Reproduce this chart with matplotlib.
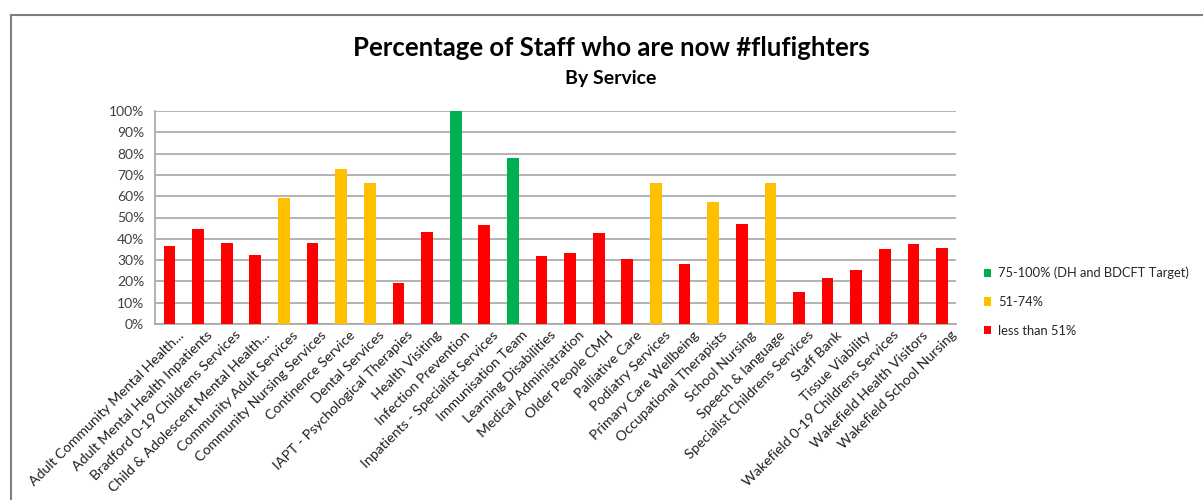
import matplotlib
matplotlib.use("Agg")
import matplotlib.pyplot as plt
from matplotlib.lines import Line2D
from matplotlib.patches import Patch
from matplotlib.ticker import PercentFormatter, MultipleLocator
from matplotlib.transforms import ScaledTranslation

plt.rcParams["font.family"] = ["Lato", "DejaVu Sans"]

services = [
    "Adult Community Mental Health...",
    "Adult Mental Health Inpatients",
    "Bradford 0-19 Childrens Services",
    "Child & Adolescent Mental Health...",
    "Community Adult Services",
    "Community Nursing Services",
    "Continence Service",
    "Dental Services",
    "IAPT - Psychological Therapies",
    "Health Visiting",
    "Infection Prevention",
    "Inpatients - Specialist Services",
    "Immunisation Team",
    "Learning Disabilities",
    "Medical Administration",
    "Older People CMH",
    "Palliative Care",
    "Podiatry Services",
    "Primary Care Wellbeing",
    "Occupational Therapists",
    "School Nursing",
    "Speech & language",
    "Specialist Childrens Services",
    "Staff Bank",
    "Tissue Viability",
    "Wakefield 0-19 Childrens Services",
    "Wakefield Health Visitors",
    "Wakefield School Nursing",
]
uptake = [36.4, 44.5, 38.0, 32.5, 59.1, 38.0, 72.9, 66.2, 19.3, 43.3,
          100.0, 46.3, 77.8, 31.8, 33.2, 42.8, 30.7, 66.2, 28.4, 57.2,
          47.0, 66.2, 15.0, 21.5, 25.2, 35.0, 37.5, 35.6]

band_labels = ["75-100% (DH and BDCFT Target)", "51-74%", "less than 51%"]
band_colors = ["#00B050", "#FFC000", "#FF0000"]


def band_color(v):
    if v >= 75:
        return band_colors[0]
    if v >= 51:
        return band_colors[1]
    return band_colors[2]


fig = plt.figure(figsize=(12.03, 5.0), dpi=100)
ax = fig.add_axes([0.129, 0.352, 0.666, 0.426])

x = range(len(services))
ax.bar(x, uptake, width=0.41, color=[band_color(v) for v in uptake], zorder=3)

ax.set_ylim(0, 100)
ax.set_xlim(-0.5, len(services) - 0.5)
ax.yaxis.set_major_locator(MultipleLocator(10))
ax.yaxis.set_major_formatter(PercentFormatter(decimals=0))
ax.grid(axis="y", color="#a6a6a6", linewidth=1.2, zorder=0)
ax.tick_params(length=0, labelsize=10, colors="#404040")
ax.tick_params(axis="y", pad=8)
for side in ["top", "right"]:
    ax.spines[side].set_visible(False)
for side in ["left", "bottom"]:
    ax.spines[side].set_color("#a6a6a6")
    ax.spines[side].set_linewidth(1.2)

ax.set_xticks(list(x))
ax.set_xticklabels(services, rotation=45, ha="right", va="top",
                   rotation_mode="anchor", fontsize=10.2, color="#1f1f1f")
offset = ScaledTranslation(8 / 100, 0, fig.dpi_scale_trans)
for lab in ax.get_xticklabels():
    lab.set_transform(lab.get_transform() + offset)

fig.text(0.508, 0.905, "Percentage of Staff who are now #flufighters",
         ha="center", va="center", fontsize=18.5, fontweight="bold")
fig.text(0.508, 0.843, "By Service", ha="center", va="center",
         fontsize=14, fontweight="bold")

handles = [Patch(facecolor=c, edgecolor="none") for c in band_colors]
fig.legend(handles, band_labels, loc="upper left",
           bbox_to_anchor=(0.808, 0.49), frameon=False, fontsize=9.3,
           handlelength=0.6, handleheight=0.6, handletextpad=0.5,
           labelspacing=1.3, labelcolor="#262626")

# outer chart border
fig.add_artist(Line2D([11 / 1203, 1.0], [1 - 14.5 / 500] * 2,
                      transform=fig.transFigure, color="#808080", linewidth=1.5))
fig.add_artist(Line2D([11 / 1203] * 2, [0.0, 1 - 14.5 / 500],
                      transform=fig.transFigure, color="#808080", linewidth=1.5))

fig.savefig("out.png", dpi=100)
